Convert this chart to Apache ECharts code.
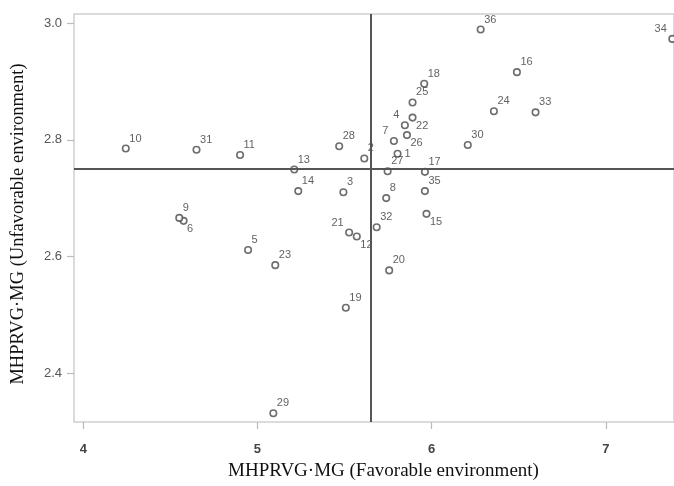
<!DOCTYPE html>
<html>
<head>
<meta charset="utf-8">
<script src="https://cdn.jsdelivr.net/npm/echarts@6/dist/echarts.min.js"></script>
<style>html,body{margin:0;padding:0;background:#fff}#chart{width:674px;height:486px}</style>
</head>
<body>
<div id="chart"></div>
<script>
// ---- data ----
const pointIds = ['1','2','3','4','5','6','7','8','9','10','11','12','13','14','15','16','17','18','19','20','21','22','23','24','25','26','27','28','29','30','31','32','33','34','35','36'];
const favorable = [5.804,5.613,5.493,5.846,4.946,4.576,5.783,5.739,4.551,4.244,4.900,5.570,5.211,5.234,5.970,6.489,5.961,5.957,5.507,5.756,5.526,5.890,5.102,6.357,5.890,5.858,5.747,5.469,5.091,6.207,4.650,5.684,6.596,7.381,5.961,6.281];
const unfavorable = [2.776,2.768,2.710,2.825,2.611,2.661,2.798,2.700,2.666,2.785,2.774,2.634,2.749,2.712,2.673,2.916,2.745,2.896,2.512,2.576,2.641,2.838,2.585,2.849,2.864,2.808,2.746,2.789,2.331,2.791,2.783,2.650,2.847,2.973,2.712,2.989];
const refFavorable = 5.652;
const refUnfavorable = 2.745;
const xTicks = [4,5,6,7];
const yTicks = [2.4,2.6,2.8,3.0];
const xTitle = 'MHPRVG·MG (Favorable environment)';
const yTitle = 'MHPRVG·MG (Unfavorable environment)';

// ---- label placement (style) ----
const placement = {'4':'ul','7':'ul','21':'ul','34':'ul','1':'r','22':'lr','26':'lr','12':'lr','15':'lr','6':'lr'};
const placeStyle = {
  ur: {align:'left', offset:[3.5,-10]},
  ul: {align:'right', offset:[-5.5,-10]},
  lr: {align:'left', offset:[3.5,8]},
  r:  {align:'left', offset:[7,0]}
};

const data = pointIds.map((id,i) => {
  const p = placeStyle[placement[id] || 'ur'];
  return {name:id, value:[favorable[i], unfavorable[i]],
    label:{align:p.align, offset:p.offset}};
});

const chart = echarts.init(document.getElementById('chart'), null, {renderer:'canvas'});
chart.setOption({
  animation:false,
  grid:{left:74, top:14, right:-2, bottom:58, show:true, borderColor:'#cfcfcf', borderWidth:1.5},
  xAxis:{
    type:'value', min:3.9468, max:7.3907,
    axisLine:{show:false},
    splitLine:{show:false},
    axisTick:{show:true, customValues:xTicks, length:7, lineStyle:{color:'#bbb', width:1.2}},
    axisLabel:{customValues:xTicks, margin:21, color:'#444', fontFamily:'Liberation Sans', fontSize:13, fontWeight:'bold'},
    name:xTitle, nameLocation:'middle', nameGap:40,
    nameTextStyle:{fontFamily:'Liberation Serif', fontSize:19, color:'#111', padding:[0,0,0,19]}
  },
  yAxis:{
    type:'value', min:2.316, max:3.0157,
    axisLine:{show:false},
    splitLine:{show:false},
    axisTick:{show:true, customValues:yTicks, length:7, lineStyle:{color:'#bbb', width:1.2}},
    axisLabel:{customValues:yTicks, margin:12, color:'#555', fontFamily:'Liberation Sans', fontSize:13,
      formatter:v => Number(v).toFixed(1)},
    name:yTitle, nameLocation:'middle', nameGap:46,
    nameTextStyle:{fontFamily:'Liberation Serif', fontSize:18.5, color:'#111', padding:[0,12,0,0]}
  },
  series:[{
    type:'scatter',
    data:data,
    symbol:'circle',
    symbolSize:6.5,
    itemStyle:{color:'#fff', borderColor:'#4a4a4a', borderWidth:1.6},
    label:{show:true, position:'inside', formatter:'{b}', verticalAlign:'middle',
      color:'#383838', fontFamily:'Liberation Sans', fontSize:11},
    markLine:{
      silent:true, symbol:'none', label:{show:false},
      lineStyle:{color:'#555', width:2, type:'solid'},
      data:[{xAxis:refFavorable},{yAxis:refUnfavorable}]
    },
    z:3
  }]
});
</script>
</body>
</html>
